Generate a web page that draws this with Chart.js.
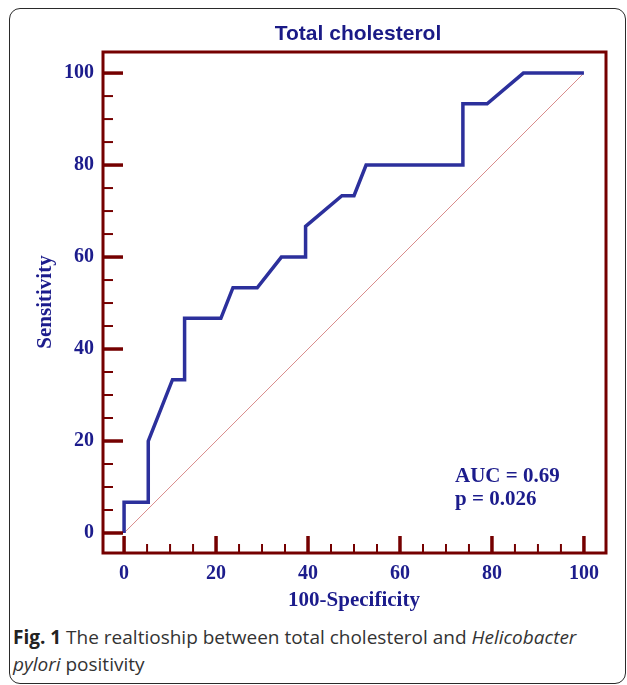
<!DOCTYPE html>
<html>
<head>
<meta charset="utf-8">
<script src="https://cdn.jsdelivr.net/npm/chart.js@4/dist/chart.umd.min.js"></script>
<style>
  html, body { margin: 0; padding: 0; background: #fff; }
  body { width: 627px; height: 685px; position: relative; overflow: hidden; }
  #box { position: absolute; left: 9px; top: 8px; width: 617px; height: 676px; box-sizing: border-box;
         border: 1.5px solid #2a2a2a; border-radius: 11px; }
  #c { position: absolute; left: 0; top: 0; }
  #cap { position: absolute; left: 13px; top: 624px; font-family: "Open Sans", sans-serif; font-size: 19px;
         line-height: 27px; color: #333; white-space: nowrap; }
  #cap b { font-weight: 700; color: #222; }
</style>
</head>
<body>
<div id="box"></div>
<canvas id="c" width="627" height="620"></canvas>
<div id="cap"><b>Fig. 1</b> The realtioship between total cholesterol and <i>Helicobacter</i><br><i>pylori</i> positivity</div>
<script>
// ROC curve points: x = 100-Specificity, y = Sensitivity
const fprValues = [0, 0, 5.26, 5.26, 10.53, 13.16, 13.16, 21.05, 23.68, 28.95, 34.21, 39.47, 39.47, 47.37, 50.0, 52.63, 73.68, 73.68, 78.95, 86.84, 100];
const sensValues = [0, 6.67, 6.67, 20, 33.33, 33.33, 46.67, 46.67, 53.33, 53.33, 60, 60, 66.67, 73.33, 73.33, 80, 80, 93.33, 93.33, 100, 100];
const diagX = [0, 100];
const diagY = [0, 100];
const xTickLabels = [0, 20, 40, 60, 80, 100];
const yTickLabels = [0, 20, 40, 60, 80, 100];
const minorTicks = [0, 5, 10, 15, 20, 25, 30, 35, 40, 45, 50, 55, 60, 65, 70, 75, 80, 85, 90, 95, 100];
const chartTitle = 'Total cholesterol';
const xTitle = '100-Specificity';
const yTitle = 'Sensitivity';
const statLines = ['AUC = 0.69', 'p = 0.026'];

const NAVY = '#1c1c8c';
const FRAME = '#750000';
const serifBold = { family: '"Liberation Serif", "Times New Roman", serif', weight: 'bold' };

const rocData = fprValues.map((x, i) => ({ x: x, y: sensValues[i] }));
const diagData = diagX.map((x, i) => ({ x: x, y: diagY[i] }));

const framePlugin = {
  id: 'frame',
  afterDatasetsDraw(chart) {
    const { ctx, chartArea: a, scales: { x, y } } = chart;
    ctx.save();
    ctx.strokeStyle = FRAME;
    ctx.lineCap = 'butt';
    // ticks on y axis (inward from left edge)
    minorTicks.forEach(v => {
      const major = v % 20 === 0;
      const py = y.getPixelForValue(v);
      ctx.lineWidth = major ? 3.5 : 2;
      ctx.beginPath();
      ctx.moveTo(a.left, py);
      ctx.lineTo(a.left + (major ? 21 : 11), py);
      ctx.stroke();
    });
    // ticks on x axis (inward from bottom edge)
    minorTicks.forEach(v => {
      const major = v % 20 === 0;
      const px = x.getPixelForValue(v);
      ctx.lineWidth = major ? 3.5 : 2;
      ctx.beginPath();
      ctx.moveTo(px, a.bottom);
      ctx.lineTo(px, a.bottom - (major ? 17 : 9));
      ctx.stroke();
    });
    // frame
    ctx.lineWidth = 3;
    ctx.strokeRect(a.left + 1, a.top + 1, a.right - a.left - 1, a.bottom - a.top - 1);
    // title
    ctx.fillStyle = '#1a1a86';
    ctx.font = 'bold 21px "Liberation Sans", Arial, sans-serif';
    ctx.textAlign = 'center';
    ctx.textBaseline = 'alphabetic';
    ctx.fillText(chartTitle, (a.left + a.right) / 2 + 4, 40);
    // stats text
    ctx.fillStyle = NAVY;
    ctx.font = 'bold 21px "Liberation Serif", "Times New Roman", serif';
    ctx.textAlign = 'left';
    statLines.forEach((t, i) => ctx.fillText(t, 455, 482 + i * 23));
    ctx.restore();
  }
};

new Chart(document.getElementById('c'), {
  type: 'scatter',
  data: {
    datasets: [
      { data: diagData, showLine: true, borderColor: '#d98c8c', borderWidth: 1, pointRadius: 0, order: 2 },
      { data: rocData, showLine: true, borderColor: '#2c309c', borderWidth: 3.5, pointRadius: 0,
        borderJoinStyle: 'miter', tension: 0, order: 1 }
    ]
  },
  options: {
    responsive: false,
    animation: false,
    devicePixelRatio: 1,
    layout: { padding: { top: 51, right: 21, left: 0, bottom: 0 } },
    plugins: { legend: { display: false }, tooltip: { enabled: false }, title: { display: false } },
    scales: {
      x: {
        type: 'linear', min: -4.8, max: 104.8,
        afterBuildTicks: s => { s.ticks = xTickLabels.map(v => ({ value: v })); },
        afterFit: s => { s.height = 67; },
        grid: { display: false, drawTicks: false },
        border: { display: false },
        ticks: { color: NAVY, font: { ...serifBold, size: 20 }, padding: 9, maxRotation: 0, autoSkip: false },
        title: { display: true, text: xTitle, color: NAVY, font: { ...serifBold, size: 21 }, padding: { top: 0, bottom: 7 } }
      },
      y: {
        type: 'linear', min: -4.35, max: 104.8,
        afterBuildTicks: s => { s.ticks = yTickLabels.map(v => ({ value: v })); },
        afterFit: s => { s.width = 102; },
        grid: { display: false, drawTicks: false },
        border: { display: false },
        ticks: { color: NAVY, font: { ...serifBold, size: 20 }, padding: 8, autoSkip: false },
        title: { display: true, text: yTitle, color: NAVY, font: { ...serifBold, size: 21 }, padding: { top: 33, bottom: 0 } }
      }
    }
  },
  plugins: [framePlugin]
});
</script>
</body>
</html>
